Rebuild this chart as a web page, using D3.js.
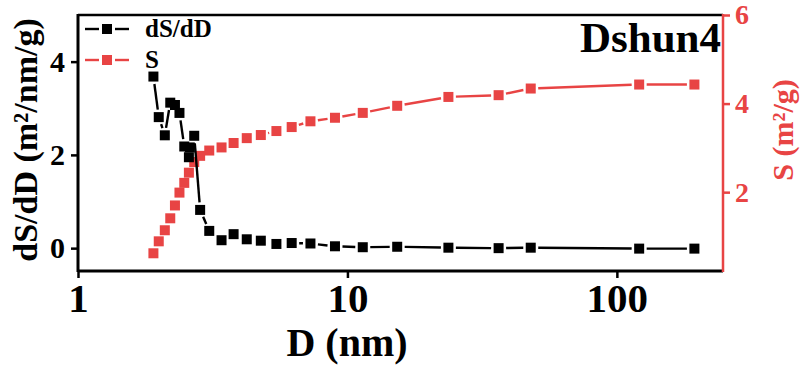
<!DOCTYPE html>
<html lang="en">
<head>
<meta charset="UTF-8">
<script src="https://d3js.org/d3.v7.min.js"></script>
<style>
  body { margin: 0; background: #fff; }
  text { font-family: "Liberation Serif", "Times New Roman", serif; font-weight: bold; }
</style>
</head>
<body>
<div id="chart"></div>
<script>
// data
const dsD = [1.905, 1.994, 2.10, 2.20, 2.29, 2.38, 2.48, 2.58, 2.60, 2.70, 2.84, 3.07, 3.41, 3.78, 4.23, 4.77, 5.45, 6.21, 7.29, 8.99, 11.4, 15.3, 23.7, 36.4, 47.9, 121, 194];
const dsVal = [3.68, 2.81, 2.42, 3.12, 3.07, 2.90, 2.18, 1.95, 2.16, 2.41, 0.82, 0.37, 0.17, 0.30, 0.19, 0.16, 0.09, 0.11, 0.10, 0.04, 0.02, 0.03, 0.01, 0.0, 0.01, -0.01, -0.01];
const sD = [1.905, 1.994, 2.10, 2.20, 2.29, 2.38, 2.48, 2.58, 2.70, 2.84, 3.07, 3.41, 3.78, 4.23, 4.77, 5.45, 6.21, 7.29, 8.99, 11.4, 15.3, 23.7, 36.4, 47.9, 121, 194];
const sVal = [0.62, 0.89, 1.14, 1.41, 1.70, 1.99, 2.21, 2.44, 2.68, 2.82, 2.94, 3.01, 3.11, 3.22, 3.29, 3.38, 3.47, 3.60, 3.68, 3.79, 3.95, 4.15, 4.19, 4.34, 4.43, 4.43];
const xTicks = [1, 10, 100];
const yLeftTicks = [0, 2, 4];
const yRightTicks = [2, 4, 6];

const W = 803, H = 366;
const red = "#e84444";
const mLeft = 78, mRight = 723, mTop = 15, mBottom = 271;

const svg = d3.select("#chart").append("svg")
    .attr("width", W).attr("height", H);

const x = d3.scaleLog().domain([1, 247.7]).range([mLeft, mRight]);
const yL = d3.scaleLinear().domain([-0.49, 5]).range([mBottom, mTop]);
const yR = d3.scaleLinear().domain([0.22, 6]).range([mBottom, mTop]);

// line segments with small gaps around the markers (Origin style)
function gappedLine(g, pts, color, gap) {
    for (let i = 0; i < pts.length - 1; i++) {
        const [x0, y0] = pts[i], [x1, y1] = pts[i + 1];
        const len = Math.hypot(x1 - x0, y1 - y0);
        if (len <= 2 * gap + 1) continue;
        const ux = (x1 - x0) / len, uy = (y1 - y0) / len;
        g.append("line")
            .attr("x1", x0 + ux * gap).attr("y1", y0 + uy * gap)
            .attr("x2", x1 - ux * gap).attr("y2", y1 - uy * gap)
            .attr("stroke", color).attr("stroke-width", 2.4);
    }
}
function squares(g, pts, color, size) {
    g.selectAll(null).data(pts).enter().append("rect")
        .attr("x", d => d[0] - size / 2).attr("y", d => d[1] - size / 2)
        .attr("width", size).attr("height", size)
        .attr("fill", color);
}

// series
const sPts = sD.map((d, i) => [x(d), yR(sVal[i])]);
const dPts = dsD.map((d, i) => [x(d), yL(dsVal[i])]);
const gS = svg.append("g");
gappedLine(gS, sPts, red, 7.5);
squares(gS, sPts, red, 10);
const gD = svg.append("g");
gappedLine(gD, dPts, "#000", 7.5);
squares(gD, dPts, "#000", 10);

// frame: top
svg.append("line").attr("x1", mLeft).attr("x2", mRight).attr("y1", mTop).attr("y2", mTop)
    .attr("stroke", "#000").attr("stroke-width", 2.5);

function styleText(sel, size, color) {
    sel.attr("font-size", size).attr("fill", color)
        .style("font-family", "'Liberation Serif', serif").style("font-weight", "bold");
}

// bottom axis
const ax = svg.append("g").attr("transform", `translate(0,${mBottom})`)
    .call(d3.axisBottom(x).tickValues(xTicks).tickFormat(d3.format("d")).tickSize(7).tickPadding(5));
ax.select(".domain").attr("stroke-width", 3).attr("d", `M${mLeft},0H${mRight}`);
ax.selectAll(".tick line").attr("stroke-width", 2.5);
styleText(ax.selectAll("text"), 41, "#000");

// left axis
const ayl = svg.append("g").attr("transform", `translate(${mLeft},0)`)
    .call(d3.axisLeft(yL).tickValues(yLeftTicks).tickFormat(d3.format("d")).tickSize(7).tickPadding(6));
ayl.select(".domain").attr("stroke-width", 3).attr("d", `M0,${mTop - 1}V${mBottom + 1}`);
ayl.selectAll(".tick line").attr("stroke-width", 2.5);
styleText(ayl.selectAll("text"), 30, "#000");

// right axis
const ayr = svg.append("g").attr("transform", `translate(${mRight},0)`)
    .call(d3.axisRight(yR).tickValues(yRightTicks).tickFormat(d3.format("d")).tickSize(7).tickPadding(5));
ayr.select(".domain").attr("stroke", red).attr("stroke-width", 2.5).attr("d", `M0,${mTop - 1}V${mBottom + 1}`);
ayr.selectAll(".tick line").attr("stroke", red).attr("stroke-width", 2.5);
styleText(ayr.selectAll("text"), 28, red);

// axis titles
svg.append("text").attr("x", 347).attr("y", 356)
    .attr("text-anchor", "middle").attr("font-size", 40).text("D (nm)");
svg.append("text").attr("transform", "translate(37,140) rotate(-90)")
    .attr("text-anchor", "middle").attr("font-size", 34)
    .text("dS/dD (m\u00B2/nm/g)");
svg.append("text").attr("transform", "translate(793,130) rotate(-90)")
    .attr("text-anchor", "middle").attr("font-size", 30).attr("fill", red)
    .text("S (m\u00B2/g)");

// sample label
svg.append("text").attr("x", 721).attr("y", 52).attr("text-anchor", "end")
    .attr("font-size", 43).text("Dshun4");

// legend
const legend = [["dS/dD", "#000", 29], ["S", red, 60]];
legend.forEach(([label, color, ly]) => {
    const g = svg.append("g");
    gappedLine(g, [[77, ly], [107, ly], [137, ly]], color, 8);
    squares(g, [[107, ly]], color, 10);
    g.append("text").attr("x", 145).attr("y", ly + 8).attr("font-size", 25).attr("fill", "#000").text(label);
});
</script>
</body>
</html>
